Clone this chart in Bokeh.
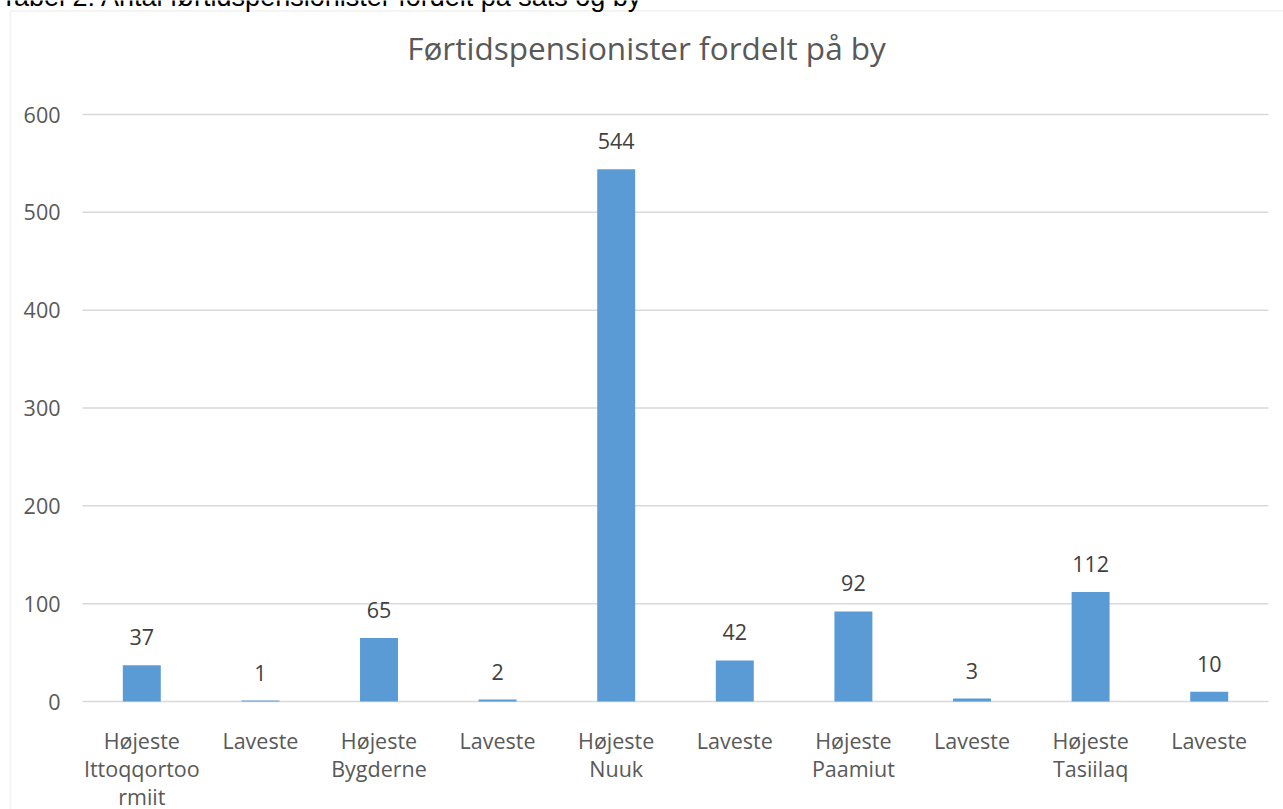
from bokeh.plotting import figure
from bokeh.models import (ColumnDataSource, Range1d, Label, BoxAnnotation, FixedTicker, LinearAxis)
from bokeh.core.properties import value
from bokeh.embed import file_html
from bokeh.resources import INLINE

# ---- data ----
sats = ["Højeste", "Laveste", "Højeste", "Laveste", "Højeste", "Laveste", "Højeste", "Laveste", "Højeste", "Laveste"]
cities = ["Ittoqqortoormiit", "Ittoqqortoormiit", "Bygderne", "Bygderne", "Nuuk", "Nuuk", "Paamiut", "Paamiut", "Tasiilaq", "Tasiilaq"]
tick_labels = ["Højeste\nIttoqqortoo\nrmiit", "Laveste", "Højeste\nBygderne", "Laveste", "Højeste\nNuuk",
               "Laveste", "Højeste\nPaamiut", "Laveste", "Højeste\nTasiilaq", "Laveste"]
values = [37, 1, 65, 2, 544, 42, 92, 3, 112, 10]
y_ticks = [0, 100, 200, 300, 400, 500, 600]

title_text = "Førtidspensionister fordelt på by"
caption_text = "Tabel 2: Antal førtidspensionister fordelt på sats og by"

# ---- layout (canvas pixel coordinates, top-left origin) ----
W, H = 1283, 809
PA_L, PA_R = 82, 1268           # plot area left / right
PA_T, PA_B = 114, 701           # plot area top (=600) / bottom (=0)

n = len(values)
xpx = (PA_R - PA_L) / n
x0 = -0.5 - PA_L / xpx
x1 = n - 0.5 + (W - PA_R) / xpx
ymax = max(y_ticks)
ypx = (PA_B - PA_T) / ymax
y0 = -(H - PA_B) / ypx
y1 = ymax + PA_T / ypx

idx = list(range(n))
src = ColumnDataSource(dict(x=idx, v=values, lbl=[str(v) for v in values]))

p = figure(width=W, height=H, x_range=Range1d(x0, x1), y_range=Range1d(y0, y1),
           output_backend="svg", toolbar_location=None,
           x_axis_location=None, y_axis_location=None,
           min_border_left=0, min_border_right=0, min_border_top=0, min_border_bottom=0)
p.outline_line_color = None
p.background_fill_color = "white"
p.border_fill_color = "white"
p.xgrid.visible = False
p.ygrid.visible = False

FONT = "Open Sans"
GRAY = "#595959"
FS = "21.5px"

# gridlines (incl. zero line)
p.segment(x0=[-0.5] * len(y_ticks), x1=[n - 0.5] * len(y_ticks), y0=y_ticks, y1=y_ticks,
          line_color="#d9d9d9", line_width=1.5)

p.vbar(x="x", top="v", width=0.32, source=src, color="#5B9BD5", line_color=None)
p.text(x="x", y="v", text="lbl", source=src, y_offset=-28, text_align="center",
       text_baseline="middle", text_font=value(FONT), text_font_size=FS, text_color="#404040")

# axes at fixed locations inside the chart box
yax = LinearAxis(fixed_location=-0.5, ticker=FixedTicker(ticks=y_ticks))
yax.axis_line_color = None
yax.major_tick_line_color = None
yax.minor_tick_line_color = None
yax.major_label_standoff = 16
yax.major_label_text_font = FONT
yax.major_label_text_font_size = FS
yax.major_label_text_color = GRAY
p.add_layout(yax, "left")

xax = LinearAxis(fixed_location=0, ticker=FixedTicker(ticks=idx))
xax.axis_line_color = None
xax.major_tick_line_color = None
xax.minor_tick_line_color = None
xax.major_label_standoff = 18
xax.major_label_overrides = {i: t for i, t in zip(idx, tick_labels)}
xax.major_label_text_font = FONT
xax.major_label_text_font_size = FS
xax.major_label_text_color = GRAY
xax.major_label_text_line_height = 0.98
p.add_layout(xax, "below")

# chart box border (only left and top edges fall inside the window)
p.add_layout(BoxAnnotation(left=10, right=W + 20, top=H - 10.5, bottom=-20,
                           left_units="screen", right_units="screen",
                           top_units="screen", bottom_units="screen",
                           fill_alpha=0, line_color="#d9d9d9", line_width=2))

# chart title
p.add_layout(Label(x=646, y=H - 47, x_units="screen", y_units="screen", text=title_text,
                   text_align="center", text_baseline="alphabetic", text_font=FONT,
                   text_font_size="31.5px", text_color=GRAY))

# caption above the chart box (cut off at the top of the window, as in the source)
p.add_layout(Label(x=0, y=H + 4, x_units="screen", y_units="screen", text=caption_text,
                   text_align="left", text_baseline="alphabetic", text_font="Liberation Sans",
                   text_font_size="27px", text_color="black"))

open("out.html", "w").write(file_html(p, INLINE))
